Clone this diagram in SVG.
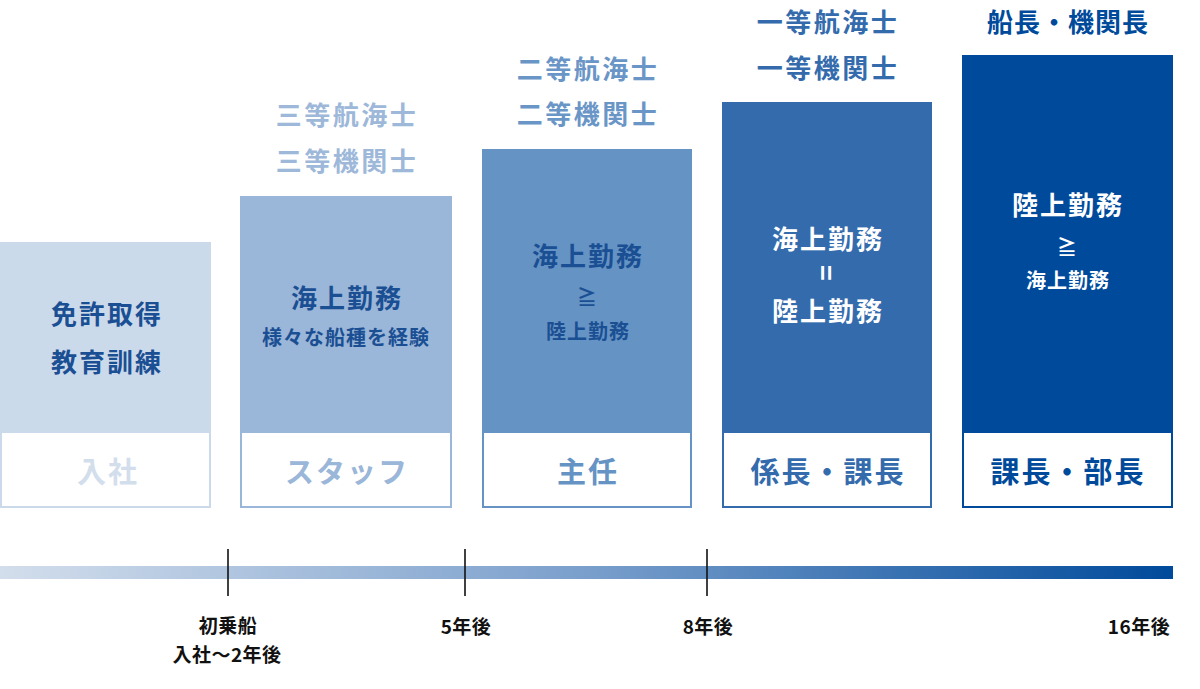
<svg xmlns="http://www.w3.org/2000/svg" width="1200" height="689" viewBox="0 0 1200 689">
<defs>
<linearGradient id="tl" x1="0" y1="0" x2="1" y2="0">
<stop offset="0" stop-color="#D3DEEC"/>
<stop offset="0.5" stop-color="#7A9FCC"/>
<stop offset="1" stop-color="#004A9B"/>
</linearGradient>
<style>
text{font-family:"Noto Sans CJK JP","Noto Sans",sans-serif;font-weight:700;text-anchor:middle;dominant-baseline:central}
.rank{font-size:26px;letter-spacing:2.5px}
.main{font-size:26px;letter-spacing:2px}
.sub{font-size:20px;letter-spacing:1px}
.sym{font-size:20px}
.title{font-size:29px;letter-spacing:2px}
.tl{font-size:19px;fill:#111;letter-spacing:0.5px}
.box{fill:#fff;stroke-width:2}
.tick{stroke:#111;stroke-width:1.6}
</style>
</defs>
<rect width="1200" height="689" fill="#fff"/>

<g id="node-nyusha">
<rect x="0" y="242" width="211" height="190" fill="#CBDAEB"/>
<rect class="box" x="1" y="432" width="209" height="75" stroke="#CBDAEB"/>
<text class="main" x="107" y="312" fill="#1B4F93">免許取得</text>
<text class="main" x="107" y="360" fill="#1B4F93">教育訓練</text>
<text class="title" x="108" y="470" fill="#D3DEEC">入社</text>
</g>

<g id="node-staff">
<text class="rank" x="347" y="113" fill="#9DB8D9">三等航海士</text>
<text class="rank" x="347" y="159" fill="#9DB8D9">三等機関士</text>
<rect x="240" y="196" width="212" height="236" fill="#9AB6D8"/>
<rect class="box" x="241" y="432" width="210" height="75" stroke="#9AB6D8"/>
<text class="main" x="347" y="296" fill="#1B4F93">海上勤務</text>
<text class="sub" x="346" y="336" fill="#1B4F93">様々な船種を経験</text>
<text class="title" x="347" y="470" fill="#9AB6D8">スタッフ</text>
</g>

<g id="node-shunin">
<text class="rank" x="588" y="67" fill="#6A96C7">二等航海士</text>
<text class="rank" x="588" y="112" fill="#6A96C7">二等機関士</text>
<rect x="482" y="149" width="210" height="283" fill="#6593C4"/>
<rect class="box" x="483" y="432" width="208" height="75" stroke="#6593C4"/>
<text class="main" x="588" y="254" fill="#1B4F93">海上勤務</text>
<text class="sym" x="587" y="296" fill="#1B4F93">≧</text>
<text class="sub" x="588" y="330" fill="#1B4F93">陸上勤務</text>
<text class="title" x="588" y="470" fill="#6593C4">主任</text>
</g>

<g id="node-kakaricho">
<text class="rank" x="828" y="20" fill="#346BAD">一等航海士</text>
<text class="rank" x="828" y="66" fill="#346BAD">一等機関士</text>
<rect x="722" y="102" width="210" height="330" fill="#346BAD"/>
<rect class="box" x="723" y="432" width="208" height="75" stroke="#346BAD"/>
<text class="main" x="828" y="237" fill="#fff">海上勤務</text>
<text x="827" y="273" fill="#fff" style="font-size:27px" transform="rotate(90 827 273)">=</text>
<text class="main" x="828" y="309" fill="#fff">陸上勤務</text>
<text class="title" x="828" y="470" fill="#346BAD">係長・課長</text>
</g>

<g id="node-kacho">
<text class="rank" x="1068" y="20" fill="#004A9B" style="letter-spacing:1px">船長・機関長</text>
<rect x="962" y="55" width="211" height="377" fill="#004A9B"/>
<rect class="box" x="963" y="432" width="209" height="75" stroke="#004A9B"/>
<text class="main" x="1068" y="203" fill="#fff">陸上勤務</text>
<text class="sym" x="1067" y="246" fill="#fff">≧</text>
<text class="sub" x="1068" y="279" fill="#fff">海上勤務</text>
<text class="title" x="1068" y="470" fill="#004A9B">課長・部長</text>
</g>

<g id="connectors">
<rect x="0" y="566" width="1173" height="13" fill="url(#tl)"/>
<line class="tick" x1="228" y1="549" x2="228" y2="596"/>
<line class="tick" x1="465" y1="549" x2="465" y2="596"/>
<line class="tick" x1="707" y1="549" x2="707" y2="596"/>
</g>

<g id="timeline-labels">
<text class="tl" x="228" y="624">初乗船</text>
<text class="tl" x="227" y="653">入社〜2年後</text>
<text class="tl" x="466" y="625">5年後</text>
<text class="tl" x="708" y="625">8年後</text>
<text class="tl" x="1139" y="625">16年後</text>
</g>
</svg>
